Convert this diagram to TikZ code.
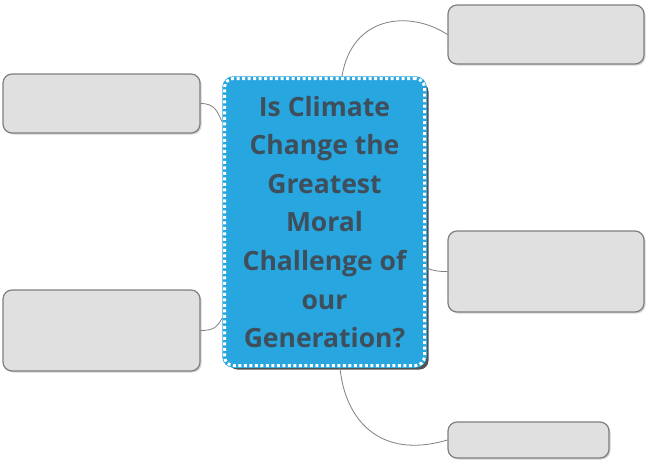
\documentclass[tikz,border=0pt]{standalone}
\usepackage{fontspec}
\newfontfamily\qfont{Open Sans}
\usetikzlibrary{positioning,calc,shadows}

\definecolor{qblue}{HTML}{27A6DF}
\definecolor{qtext}{HTML}{3E4E5B}
\definecolor{boxfill}{HTML}{E0E0E0}
\definecolor{boxline}{HTML}{7F7F7F}

\begin{document}
\begin{tikzpicture}[x=1pt, y=-1pt,
    topic/.style={rounded corners=9pt, fill=qblue, draw=qblue, line width=4.5pt, inner sep=0pt,
      postaction={draw=white, line width=3pt, dash pattern=on 3pt off 2.5pt},
      minimum width=200pt, minimum height=287pt, align=center, text=qtext,
      font=\qfont\bfseries\fontsize{26.5}{38.6}\selectfont,
      drop shadow={shadow xshift=4pt, shadow yshift=-4pt, opacity=0.8, fill=black!85}},
    leaf/.style={rounded corners=9pt, fill=boxfill, draw=boxline, line width=1.2pt,
      inner sep=0pt, drop shadow={shadow xshift=1.5pt, shadow yshift=-1.5pt, opacity=0.35}},
    link/.style={draw=boxline, line width=0.8pt}
  ]
\useasboundingbox (0,0) rectangle (649,467);

% Central question
\node[topic] (ctr) at (324.5,222) {Is Climate\\Change the\\Greatest\\Moral\\Challenge of\\our\\Generation?};

% Empty branch boxes
\node[leaf, minimum width=196pt, minimum height=59pt] (tr) at (546,34.5) {};
\node[leaf, minimum width=197pt, minimum height=59pt] (lt) at (101.5,103.5) {};
\node[leaf, minimum width=196pt, minimum height=81pt] (rm) at (546,271.5) {};
\node[leaf, minimum width=197pt, minimum height=81pt] (lb) at (101.5,330.5) {};
\node[leaf, minimum width=161pt, minimum height=36pt] (br) at (528.5,440) {};

% Curved connectors
\draw[link] ($(ctr.north)+(17.5,0)$) .. controls (352,15) and (410,10) .. (tr.west);
\draw[link] (lt.east) .. controls +(15,0) and +(-5,-10) .. ($(ctr.west)+(0,-100)$);
\draw[link] (lb.east) .. controls +(15,0) and +(-5,8) .. ($(ctr.west)+(0,96)$);
\draw[link] ($(ctr.east)+(0,46)$) .. controls +(8,3) and +(-10,0) .. (rm.west);
\draw[link] ($(ctr.south)+(15.5,0)$) .. controls (345,420) and (380,460) .. (br.west);

\end{tikzpicture}
\end{document}
